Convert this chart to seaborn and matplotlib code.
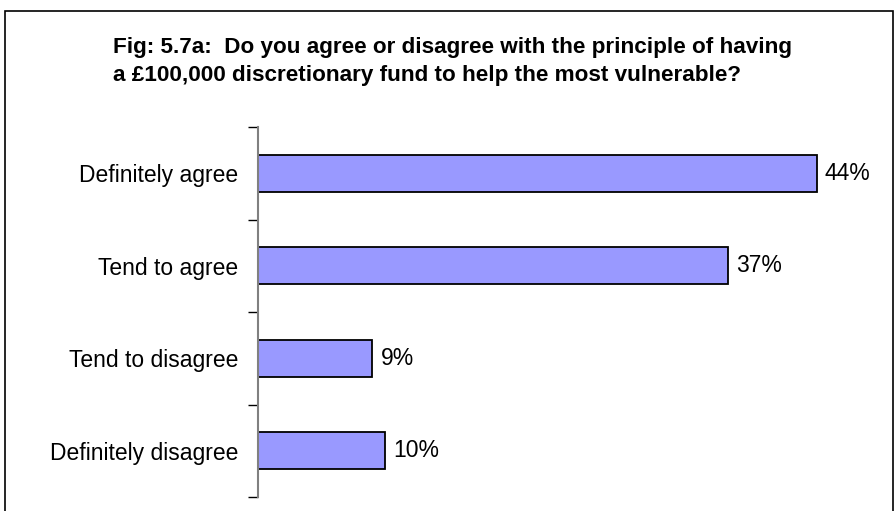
import matplotlib
matplotlib.use("Agg")
import matplotlib.pyplot as plt
import seaborn as sns
import pandas as pd
from matplotlib.patches import Rectangle

categories = ["Definitely agree", "Tend to agree", "Tend to disagree", "Definitely disagree"]
values = [44, 37, 9, 10]
value_labels = ["44%", "37%", "9%", "10%"]
title_lines = ["Fig: 5.7a:  Do you agree or disagree with the principle of having",
               "a \u00a3100,000 discretionary fund to help the most vulnerable?"]

sns.set_theme(style="white")
plt.rcParams['font.family'] = ['Liberation Sans', 'DejaVu Sans']
plt.rcParams['text.color'] = 'black'
plt.rcParams['ytick.color'] = 'black'
plt.rcParams['ytick.labelcolor'] = 'black'

df = pd.DataFrame({"category": categories, "value": values})

fig = plt.figure(figsize=(8.95, 5.11), dpi=100)
fig.patch.set_facecolor("white")
# outer frame
fig.add_artist(Rectangle((5/895, -0.1), (893-5)/895, (511-11)/511 + 0.1,
                         transform=fig.transFigure, fill=False,
                         edgecolor="black", linewidth=1.2))

ax = fig.add_axes([258/895, 14/511, 622/895, 370/511])
sns.barplot(data=df, x="value", y="category", orient="h", ax=ax,
            color="#9999FF", edgecolor="black", linewidth=1.3,
            width=0.4, saturation=1)

ax.set_xlim(0, 49)
ax.set_ylim(3.5, -0.5)
ax.set_xlabel("")
ax.set_ylabel("")
ax.set_xticks([])
for s in ["top", "right", "bottom"]:
    ax.spines[s].set_visible(False)
ax.spines["left"].set_color("#808080")
ax.spines["left"].set_linewidth(1.5)

# category labels at centers, ticks at boundaries
ax.set_yticks(range(len(categories)))
ax.set_yticklabels(categories, fontsize=16.5)
ax.tick_params(axis="y", which="major", left=True, length=0, pad=14)
ax.set_yticks([-0.5, 0.5, 1.5, 2.5, 3.5], minor=True)
ax.tick_params(axis="y", which="minor", left=True, length=7, width=1,
               color="black", direction="out")

for i, (v, lab) in enumerate(zip(values, value_labels)):
    ax.annotate(lab, xy=(v, i), xytext=(6, 0), textcoords="offset points",
                va="center", ha="left", fontsize=16.5)

fig.text(113/895, 1 - 47/511, title_lines[0], ha="left", va="center",
         fontsize=16.2, fontweight="bold")
fig.text(113/895, 1 - 76/511, title_lines[1], ha="left", va="center",
         fontsize=16.2, fontweight="bold")

fig.savefig("out.png", dpi=100)
